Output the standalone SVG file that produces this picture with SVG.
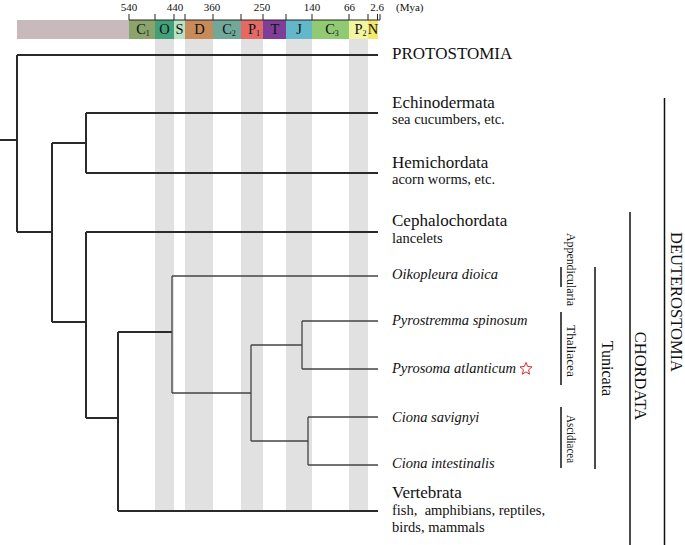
<svg xmlns="http://www.w3.org/2000/svg" width="685" height="545" viewBox="0 0 685 545">
<style>
text{font-family:"Liberation Serif","Times New Roman",serif;fill:#111}
.ma{font-size:11px;text-anchor:middle}
.per{font-size:14.5px;text-anchor:middle}
.sub{font-size:8px}
.band{fill:#e0e1e0}
.big{font-size:17px}
.sm{font-size:14.5px}
.it{font-size:14.5px;font-style:italic}
.thick{fill:none;stroke:#2a2a2a;stroke-width:2}
.thin{fill:none;stroke:#444;stroke-width:1.3}
.bar{fill:none;stroke:#111;stroke-width:1.5}
.rot{text-anchor:middle}
</style>
<g id="timescale">
<rect x="155" y="39" width="19" height="472" class="band"/>
<rect x="185" y="39" width="28" height="472" class="band"/>
<rect x="241" y="39" width="22" height="472" class="band"/>
<rect x="286" y="39" width="26" height="472" class="band"/>
<rect x="349" y="39" width="19" height="472" class="band"/>
<rect x="17" y="20" width="112" height="19" fill="#c8b9bd"/>
<rect x="129" y="20" width="26" height="19" fill="#8aa46c"/>
<rect x="155" y="20" width="19" height="19" fill="#41a07a"/>
<rect x="174" y="20" width="11" height="19" fill="#b8e2c4"/>
<rect x="185" y="20" width="28" height="19" fill="#c68b59"/>
<rect x="213" y="20" width="28" height="19" fill="#72a89a"/>
<rect x="241" y="20" width="22" height="19" fill="#e36a64"/>
<rect x="263" y="20" width="23" height="19" fill="#7f3f98"/>
<rect x="286" y="20" width="26" height="19" fill="#62b8c9"/>
<rect x="312" y="20" width="37" height="19" fill="#90cb74"/>
<rect x="349" y="20" width="19" height="19" fill="#f2f5a2"/>
<rect x="368" y="20" width="10" height="19" fill="#f3e86c"/>
<path d="M129,20 H380 M129,14 V20 M155,14 V20 M174,14 V20 M185,14 V20 M213,14 V20 M241,14 V20 M263,14 V20 M286,14 V20 M312,14 V20 M349,14 V20 M368,14 V20 M377.5,14 V20 M380,14 V20" fill="none" stroke="#222" stroke-width="1"/>
<text class="ma" x="129" y="11">540</text>
<text class="ma" x="175" y="11">440</text>
<text class="ma" x="212" y="11">360</text>
<text class="ma" x="262" y="11">250</text>
<text class="ma" x="312" y="11">140</text>
<text class="ma" x="349.5" y="11">66</text>
<text class="ma" x="377" y="11">2.6</text>
<text x="396" y="11" style="font-size:11px">(Mya)</text>
<text class="per" x="143" y="34">C<tspan class="sub" dy="2">1</tspan></text>
<text class="per" x="164.5" y="34">O</text>
<text class="per" x="179.5" y="34">S</text>
<text class="per" x="199.5" y="34">D</text>
<text class="per" x="229" y="34">C<tspan class="sub" dy="2">2</tspan></text>
<text class="per" x="254" y="34">P<tspan class="sub" dy="2">1</tspan></text>
<text class="per" x="275" y="34">T</text>
<text class="per" x="299" y="34">J</text>
<text class="per" x="332" y="34">C<tspan class="sub" dy="2">3</tspan></text>
<text class="per" x="360.5" y="34">P<tspan class="sub" dy="2">2</tspan></text>
<text class="per" x="373" y="34">N</text>
</g>
<g id="connectors">
<path class="thick" d="M0,140 H17 M17,55 V232 M17,55 H378 M17,232 H52 M52,143 V322 M52,143 H86 M86,113 V173 M86,113 H378 M86,173 H378 M52,322 H86 M86,232 V418 M86,232 H378 M86,418 H118 M118,332 V511 M118,511 H378 M118,332 H172"/>
<path class="thin" d="M172,276 V393 M172,276 H378 M172,393 H251 M251,345 V441 M251,345 H302 M302,321 V369 M302,321 H378 M302,369 H378 M251,441 H308 M308,417 V465 M308,417 H378 M308,465 H378"/>
</g>
<g id="protostomia"><text class="big" x="392" y="59">PROTOSTOMIA</text></g>
<g id="echinodermata"><text class="big" x="392" y="107.5">Echinodermata</text><text class="sm" x="392" y="124">sea cucumbers, etc.</text></g>
<g id="hemichordata"><text class="big" x="392" y="167.5">Hemichordata</text><text class="sm" x="392" y="184">acorn worms, etc.</text></g>
<g id="cephalochordata"><text class="big" x="392" y="226">Cephalochordata</text><text class="sm" x="392" y="242.5">lancelets</text></g>
<g id="oikopleura"><text class="it" x="392" y="279">Oikopleura dioica</text></g>
<g id="pyrostremma"><text class="it" x="392" y="325">Pyrostremma spinosum</text></g>
<g id="pyrosoma"><text class="it" x="392" y="373">Pyrosoma atlanticum</text>
<polygon points="526,362.5 527.6,366.4 532,366.9 528.6,369.8 529.6,374.2 526,371.9 522.4,374.2 523.4,369.8 520,366.9 524.4,366.4" fill="none" stroke="#e02a2a" stroke-width="1"/></g>
<g id="ciona-savignyi"><text class="it" x="392" y="422">Ciona savignyi</text></g>
<g id="ciona-intestinalis"><text class="it" x="392" y="468">Ciona intestinalis</text></g>
<g id="vertebrata"><text class="big" x="392" y="497.5">Vertebrata</text><text class="sm" x="392" y="515">fish,&#160; amphibians, reptiles,</text><text class="sm" x="392" y="531.5">birds, mammals</text></g>
<g id="appendicularia"><path class="bar" d="M561,267 V287"/><text class="rot" transform="translate(566.5,269.5) rotate(90)" style="font-size:13px" textLength="73" lengthAdjust="spacingAndGlyphs">Appendicularia</text></g>
<g id="thaliacea"><path class="bar" d="M561,312 V385"/><text class="rot" transform="translate(566.5,351) rotate(90)" style="font-size:13px" textLength="52" lengthAdjust="spacingAndGlyphs">Thaliacea</text></g>
<g id="ascidiacea"><path class="bar" d="M561,407 V468"/><text class="rot" transform="translate(566.5,439) rotate(90)" style="font-size:13px" textLength="48" lengthAdjust="spacingAndGlyphs">Ascidiacea</text></g>
<g id="tunicata"><path class="bar" d="M595,267 V469"/><text class="rot" transform="translate(602,368.5) rotate(90)" style="font-size:16px">Tunicata</text></g>
<g id="chordata"><path class="bar" d="M630,212 V545"/><text class="rot" transform="translate(635,376) rotate(90)" style="font-size:16.5px">CHORDATA</text></g>
<g id="deuterostomia"><path class="bar" d="M664.5,98 V545"/><text class="rot" transform="translate(670.5,302) rotate(90)" style="font-size:16.5px">DEUTEROSTOMIA</text></g>
</svg>
